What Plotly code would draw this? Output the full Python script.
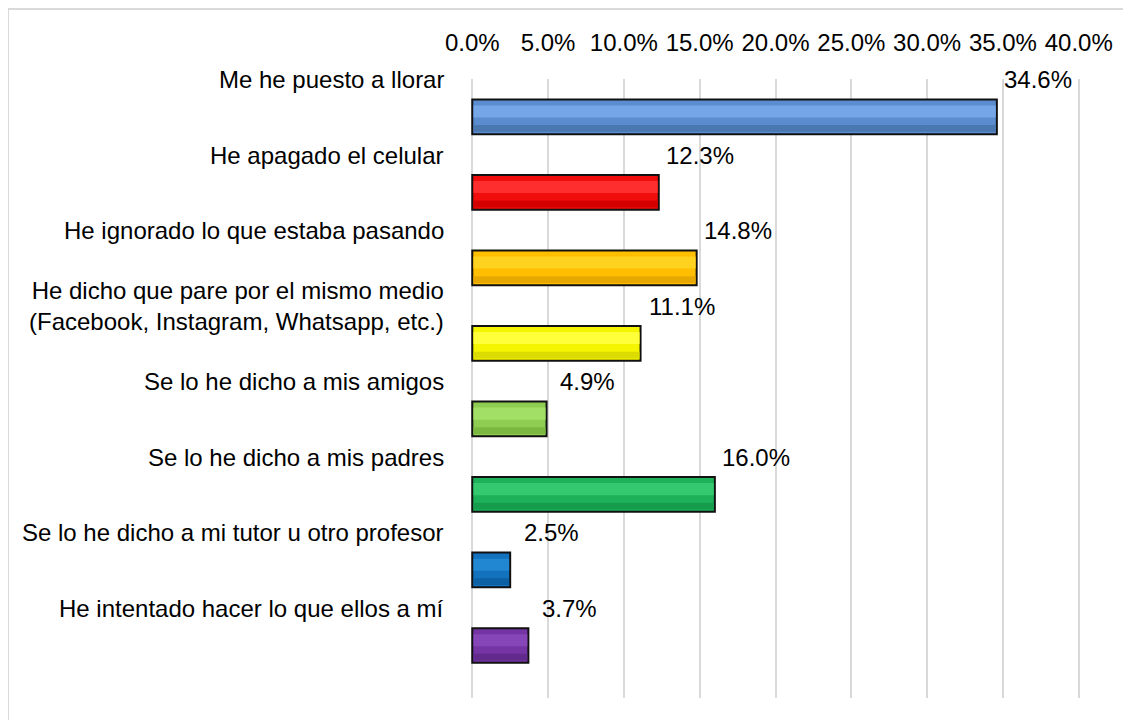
import plotly.graph_objects as go

categories = [
    'Me he puesto a llorar',
    'He apagado el celular',
    'He ignorado lo que estaba pasando',
    'He dicho que pare por el mismo medio<br>(Facebook, Instagram, Whatsapp, etc.)',
    'Se lo he dicho a mis amigos',
    'Se lo he dicho a mis padres',
    'Se lo he dicho a mi tutor u otro profesor',
    'He intentado hacer lo que ellos a mí',
]
values = [34.6, 12.3, 14.8, 11.1, 4.9, 16.0, 2.5, 3.7]
tick_vals = [0, 5, 10, 15, 20, 25, 30, 35, 40]
tick_text = ['0.0%', '5.0%', '10.0%', '15.0%', '20.0%', '25.0%', '30.0%', '35.0%', '40.0%']

base_colors = ['#5a8ccf', '#f20d0d', '#ffbf00', '#f5f500', '#8fcd52', '#1db25a', '#1272bd', '#7434a3']
light_colors = ['#75a6e8', '#ff2e2e', '#ffd21f', '#ffff3a', '#a2df66', '#34c86f', '#2287d2', '#8746b8']
dark_colors = ['#4a77b0', '#d40000', '#e6a800', '#dcdc00', '#7bb840', '#159c4c', '#0c60a4', '#612a8c']

FONT = 'Liberation Sans, Arial, sans-serif'
FS = 24

fig = go.Figure()

# base bar with black outline
fig.add_trace(go.Bar(
    y=categories, x=values, orientation='h',
    width=0.46, offset=-0.23,
    marker=dict(color=base_colors, line=dict(color='#111111', width=2)),
    hoverinfo='skip'
))

# lighter band for the bevel look
fig.add_trace(go.Bar(
    y=categories, x=[v - 0.15 for v in values], base=0.08, orientation='h',
    width=0.16, offset=-0.15,
    marker=dict(color=light_colors, line=dict(width=0)),
    hoverinfo='skip'
))

# darker lower band
fig.add_trace(go.Bar(
    y=categories, x=[v - 0.15 for v in values], base=0.08, orientation='h',
    width=0.09, offset=0.11,
    marker=dict(color=dark_colors, line=dict(width=0)),
    hoverinfo='skip'
))

annotations = []
for cat, v in zip(categories, values):
    # category label sits above the bar, right aligned against the plot
    annotations.append(dict(
        xref='x', yref='y', x=0, y=cat,
        text=cat, showarrow=False, xanchor='right', align='right',
        xshift=-26, yshift=37,
        font=dict(family=FONT, size=FS, color='#000000')
    ))
    annotations.append(dict(
        xref='x', yref='y', x=v, y=cat,
        text=f'{v:.1f}%', showarrow=False, xanchor='center',
        xshift=41, yshift=37,
        font=dict(family=FONT, size=FS, color='#000000')
    ))

fig.update_layout(
    width=1131, height=720,
    margin=dict(l=462, r=58, t=71, b=30),
    paper_bgcolor='white', plot_bgcolor='white',
    barmode='overlay', showlegend=False,
    annotations=annotations,
    font=dict(family=FONT, size=FS, color='#000000'),
    xaxis=dict(
        side='top', range=[-0.15, 40.15], tickvals=tick_vals, ticktext=tick_text,
        showgrid=True, gridcolor='#d9d9d9', gridwidth=2,
        zeroline=False, showline=False, ticks='',
        ticklabelstandoff=22,
        tickfont=dict(family=FONT, size=FS, color='#000000'),
        fixedrange=True
    ),
    yaxis=dict(
        autorange='reversed', showticklabels=False, showgrid=False,
        zeroline=False, showline=False, ticks='', fixedrange=True
    ),
    shapes=[dict(
        type='rect', xref='paper', yref='paper',
        x0=-462 / 611, x1=1.3, y0=-0.2, y1=1 + 70 / 619,
        line=dict(color='#d9d9d9', width=2), fillcolor='rgba(0,0,0,0)',
        layer='below'
    )]
)

fig.write_html('out.html')
